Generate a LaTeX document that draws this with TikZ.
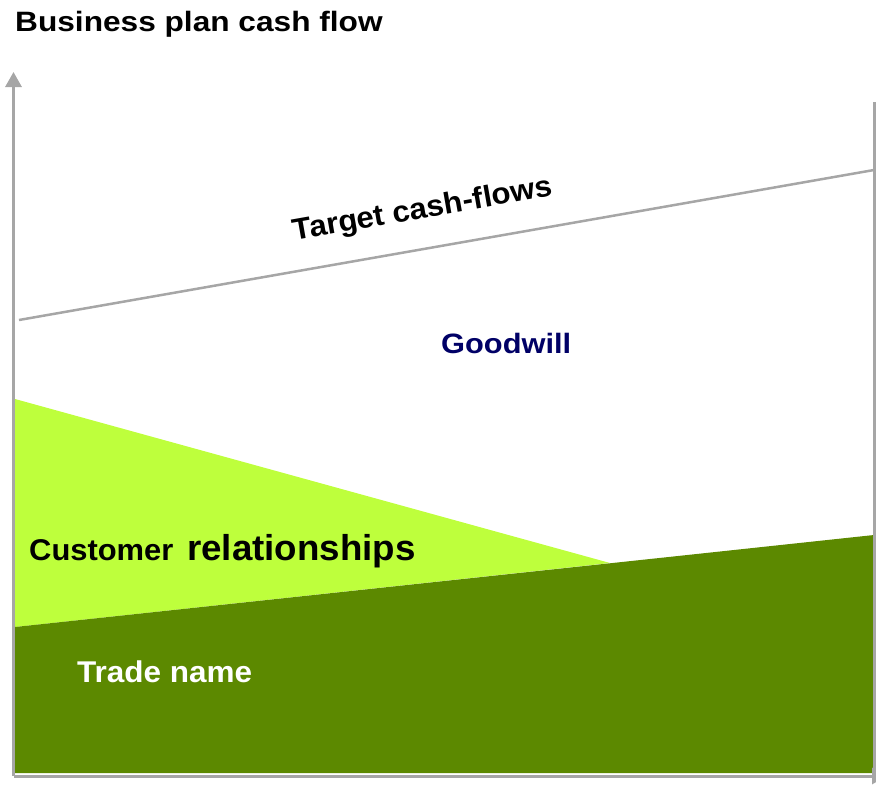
\documentclass[tikz,border=0pt]{standalone}
\usepackage{fontspec}
\setmainfont{Liberation Sans}
\usepackage{graphicx}
\usetikzlibrary{arrows.meta}
\definecolor{bpgreen}{RGB}{92,137,0}
\definecolor{bplime}{RGB}{190,255,60}
\definecolor{bpnavy}{RGB}{0,0,102}
\definecolor{bpgray}{RGB}{166,166,166}

\newcommand{\widetext}[2]{\scalebox{#1}[1]{#2}}

\begin{document}
\begin{tikzpicture}[
  x=1pt, y=-1pt,
  caption/.style={inner sep=0pt, anchor=base west, font=\bfseries},
  axisline/.style={draw=bpgray, line width=3pt, -{Triangle[length=15pt,width=16pt]}},
  guide/.style={draw=bpgray, line width=2.5pt}
]
\useasboundingbox (0,0) rectangle (876,785);

% Areas
\fill[bplime] (15,399) -- (610,563) -- (15,627) -- cycle;
\fill[bpgreen] (15,627) -- (874,535) -- (874,773) -- (15,773) -- cycle;

% Axes and lines
\coordinate (origin) at (13.5,776);
\coordinate (ytop) at (13.5,72);
\coordinate (xend) at (887,776);
\draw[axisline] (origin) -- (ytop);
\draw[axisline] (origin) -- (xend);
\coordinate (rbottom) at (874.5,776);
\coordinate (rtop) at (874.5,102);
\draw[guide, line width=3pt] (rbottom) -- (rtop);
\coordinate (tleft) at (19,320);
\coordinate (tright) at (874,170);
\draw[guide] (tleft) -- (tright);

% Texts
\node[caption, font=\bfseries\fontsize{28}{34}\selectfont] (title) at (15,31)
  {\widetext{1.13}{Business plan cash flow}};
\node[caption, anchor=base, rotate=10, font=\bfseries\fontsize{30}{36}\selectfont] (target) at (424,218)
  {\widetext{1.04}{Target cash-flows}};
\node[caption, text=bpnavy, font=\bfseries\fontsize{28}{34}\selectfont] (goodwill) at (441,353)
  {\widetext{1.1}{Goodwill}};
\node[caption, font=\bfseries\fontsize{30}{36}\selectfont] (customer) at (29,560)
  {\widetext{1.03}{Customer}};
\node[caption, font=\bfseries\fontsize{36}{43}\selectfont] (relations) at (187,560)
  {\widetext{1.02}{relationships}};
\node[caption, text=white, font=\bfseries\fontsize{30}{36}\selectfont] (trade) at (77,682)
  {\widetext{1.05}{Trade name}};

\end{tikzpicture}
\end{document}
